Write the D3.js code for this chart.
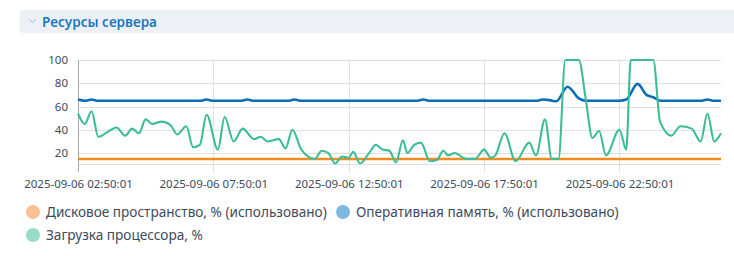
<!DOCTYPE html>
<html>
<head>
<meta charset="utf-8">
<script src="https://cdn.jsdelivr.net/npm/d3@7"></script>
<style>
  body { margin: 0; background: #fff; font-family: "Noto Sans", sans-serif; }
</style>
</head>
<body>
<div id="d3-container"></div>
<script>
/* CONSTANTS AND GLOBALS */
const width = 734,
  height = 256,
  margin = { top: 60, bottom: 92, left: 78, right: 13 };

const title = "Ресурсы сервера";

// x tick labels (every 5 hours from the first sample)
const tickLabels = ["2025-09-06 02:50:01", "2025-09-06 07:50:01", "2025-09-06 12:50:01",
  "2025-09-06 17:50:01", "2025-09-06 22:50:01"];
const xStart = "2025-09-06 02:50:01",
  xEnd = "2025-09-07 02:35:01";
const yTicks = [20, 40, 60, 80, 100];
const yMin = 10.6, yMax = 100;

const seriesNames = ["Дисковое пространство, % (использовано)",
  "Оперативная память, % (использовано)",
  "Загрузка процессора, %"];

// disk usage
const diskTimes = ["2025-09-06 02:50", "2025-09-07 02:35"];
const diskValues = [15, 15];

// memory usage
const memTimes = ["2025-09-06 02:50", "2025-09-06 03:05", "2025-09-06 03:20", "2025-09-06 03:35",
  "2025-09-06 07:20", "2025-09-06 07:35", "2025-09-06 07:50",
  "2025-09-06 08:50", "2025-09-06 09:05", "2025-09-06 09:20",
  "2025-09-06 10:35", "2025-09-06 10:50", "2025-09-06 11:05",
  "2025-09-06 15:20", "2025-09-06 15:35", "2025-09-06 15:50",
  "2025-09-06 19:45", "2025-09-06 20:00", "2025-09-06 20:15", "2025-09-06 20:30",
  "2025-09-06 20:55", "2025-09-06 21:20", "2025-09-06 21:35",
  "2025-09-06 22:50", "2025-09-06 23:05", "2025-09-06 23:30", "2025-09-06 23:50",
  "2025-09-07 00:05", "2025-09-07 00:20",
  "2025-09-07 01:50", "2025-09-07 02:05", "2025-09-07 02:20", "2025-09-07 02:35"];
const memValues = [66, 65, 66, 65,
  65, 66, 65,
  65, 66, 65,
  65, 66, 65,
  65, 66, 65,
  65, 66, 65.5, 64.5,
  77, 67, 65,
  65, 66, 79.5, 70,
  68, 65,
  65, 66, 65, 65];

// cpu load
const cpuTimes = ["2025-09-06 02:50", "2025-09-06 03:05", "2025-09-06 03:20", "2025-09-06 03:35",
  "2025-09-06 03:55", "2025-09-06 04:15", "2025-09-06 04:35", "2025-09-06 04:50",
  "2025-09-06 05:05", "2025-09-06 05:20", "2025-09-06 05:35", "2025-09-06 05:55",
  "2025-09-06 06:15", "2025-09-06 06:30", "2025-09-06 06:50", "2025-09-06 07:05",
  "2025-09-06 07:20", "2025-09-06 07:35", "2025-09-06 08:00", "2025-09-06 08:15",
  "2025-09-06 08:35", "2025-09-06 08:55", "2025-09-06 09:20", "2025-09-06 09:35",
  "2025-09-06 09:50", "2025-09-06 10:15", "2025-09-06 10:30", "2025-09-06 10:45",
  "2025-09-06 11:05", "2025-09-06 11:35", "2025-09-06 11:50", "2025-09-06 12:05",
  "2025-09-06 12:20", "2025-09-06 12:35", "2025-09-06 12:50", "2025-09-06 13:00",
  "2025-09-06 13:15", "2025-09-06 13:35", "2025-09-06 13:50", "2025-09-06 14:05",
  "2025-09-06 14:20", "2025-09-06 14:35", "2025-09-06 14:50", "2025-09-06 15:00",
  "2025-09-06 15:15", "2025-09-06 15:30", "2025-09-06 15:50", "2025-09-06 16:05",
  "2025-09-06 16:20", "2025-09-06 16:30", "2025-09-06 16:45", "2025-09-06 17:10",
  "2025-09-06 17:30", "2025-09-06 17:50", "2025-09-06 18:05", "2025-09-06 18:15",
  "2025-09-06 18:35", "2025-09-06 19:00", "2025-09-06 19:30", "2025-09-06 19:45",
  "2025-09-06 20:05", "2025-09-06 20:20", "2025-09-06 20:35", "2025-09-06 20:50",
  "2025-09-06 21:20", "2025-09-06 21:35", "2025-09-06 21:50", "2025-09-06 22:05",
  "2025-09-06 22:20", "2025-09-06 22:50", "2025-09-06 23:05", "2025-09-06 23:15",
  "2025-09-07 00:05", "2025-09-07 00:20", "2025-09-07 00:45", "2025-09-07 01:05",
  "2025-09-07 01:30", "2025-09-07 01:50", "2025-09-07 02:05", "2025-09-07 02:20",
  "2025-09-07 02:35"];
const cpuValues = [54, 45, 56, 34,
  38, 42, 35, 41,
  37, 49, 45, 47,
  44, 36, 43, 25,
  27, 53, 23, 51,
  30, 41, 32, 34,
  30, 32, 24, 40,
  23, 15, 22, 20,
  11, 17, 16, 21,
  11, 20, 27, 23,
  22, 12, 31, 20,
  27, 29, 13, 14,
  22, 18, 20, 15,
  15, 23, 16, 18,
  37, 13, 29, 18,
  49, 15, 15, 100,
  100, 67, 33, 39,
  18, 40, 23, 100,
  100, 47, 35, 43,
  41, 30, 54, 30,
  37];

const colors = ["#f68b1f", "#0b6db7", "#3dbd97"];
const legendColors = ["#f9c192", "#7db8e1", "#98dcc7"];

const parseTime = d3.timeParse("%Y-%m-%d %H:%M");
const parseFull = d3.timeParse("%Y-%m-%d %H:%M:%S");

function toPoints(times, values) {
  return times.map((t, i) => ({ date: parseTime(t), value: values[i] }));
}

const series = [
  toPoints(diskTimes, diskValues),
  toPoints(memTimes, memValues),
  toPoints(cpuTimes, cpuValues)
];

/* CREATE SVG */
const svg = d3.select("#d3-container")
  .append("svg")
  .attr("width", width)
  .attr("height", height);

// header bar
svg.append("rect")
  .attr("x", 19.5)
  .attr("y", 10)
  .attr("width", 730)
  .attr("height", 23)
  .attr("rx", 4)
  .attr("fill", "#edf1f6");

svg.append("path")
  .attr("d", "M29.5,19.5 L32.5,22.5 L35.5,19.5")
  .attr("fill", "none")
  .attr("stroke", "#8ab6dc")
  .attr("stroke-width", 1);

svg.append("text")
  .attr("x", 42)
  .attr("y", 26.5)
  .attr("font-size", 13.5)
  .attr("font-weight", 600)
  .attr("fill", "#1a78c2")
  .text(title);

// + SCALES
const xScale = d3.scaleTime()
  .domain([parseFull(xStart), parseFull(xEnd)])
  .range([margin.left, width - margin.right]);

const yScale = d3.scaleLinear()
  .domain([yMin, yMax])
  .range([height - margin.bottom, margin.top]);

const tickDates = tickLabels.map(parseFull);

// gridlines
const grid = svg.append("g").attr("class", "grid");

grid.selectAll("line.h")
  .data(yTicks.concat([yMin]))
  .join("line")
  .attr("class", "h")
  .attr("x1", margin.left)
  .attr("x2", width - margin.right)
  .attr("y1", d => Math.round(yScale(d)) + 0.5)
  .attr("y2", d => Math.round(yScale(d)) + 0.5)
  .attr("stroke", "#e0e0e0");

grid.selectAll("line.v")
  .data(tickDates.slice(1))
  .join("line")
  .attr("class", "v")
  .attr("x1", d => Math.round(xScale(d)) + 0.5)
  .attr("x2", d => Math.round(xScale(d)) + 0.5)
  .attr("y1", margin.top)
  .attr("y2", height - margin.bottom + 8)
  .attr("stroke", "#e0e0e0");

// + AXES
const yAxis = d3.axisLeft(yScale)
  .tickValues(yTicks)
  .tickSize(0)
  .tickPadding(10);

const yAxisGroup = svg.append("g")
  .attr("class", "yAxis")
  .attr("transform", `translate(${margin.left}, 0)`)
  .call(yAxis);

yAxisGroup.select(".domain").remove();
yAxisGroup.selectAll("text")
  .attr("font-family", "Noto Sans")
  .attr("font-size", 11.5)
  .attr("fill", "#3e4b5c");

svg.append("line")
  .attr("x1", Math.round(xScale(tickDates[0])) + 0.5)
  .attr("x2", Math.round(xScale(tickDates[0])) + 0.5)
  .attr("y1", margin.top)
  .attr("y2", height - margin.bottom + 8)
  .attr("stroke", "#a8a8a8");

const xAxis = d3.axisBottom(xScale)
  .tickValues(tickDates)
  .tickFormat((d, i) => tickLabels[i])
  .tickSize(0)
  .tickPadding(16);

const xAxisGroup = svg.append("g")
  .attr("class", "xAxis")
  .attr("transform", `translate(0, ${height - margin.bottom})`)
  .call(xAxis);

xAxisGroup.select(".domain").remove();
xAxisGroup.selectAll("text")
  .attr("font-family", "Noto Sans")
  .attr("font-size", 11.5)
  .attr("fill", "#3e4b5c");

// + LINES
const lineGen = d3.line()
  .x(d => xScale(d.date))
  .y(d => yScale(d.value))
  .curve(d3.curveMonotoneX);

const widths = [2.5, 2.6, 2.1];

svg.selectAll("path.series")
  .data(series)
  .join("path")
  .attr("class", "series")
  .attr("fill", "none")
  .attr("stroke", (d, i) => colors[i])
  .attr("stroke-width", (d, i) => widths[i])
  .attr("stroke-linejoin", "round")
  .attr("d", d => lineGen(d));

// + LEGEND
const legendPos = [
  { x: 33, y: 212 },
  { x: 343, y: 212 },
  { x: 33, y: 235 }
];

const legend = svg.selectAll("g.legend")
  .data(seriesNames)
  .join("g")
  .attr("class", "legend")
  .attr("transform", (d, i) => `translate(${legendPos[i].x}, ${legendPos[i].y})`);

legend.append("circle")
  .attr("r", 7)
  .attr("fill", (d, i) => legendColors[i]);

legend.append("text")
  .attr("x", 13)
  .attr("dy", "0.35em")
  .attr("font-size", 13.6)
  .attr("fill", "#3e4b5c")
  .text(d => d);
</script>
</body>
</html>
